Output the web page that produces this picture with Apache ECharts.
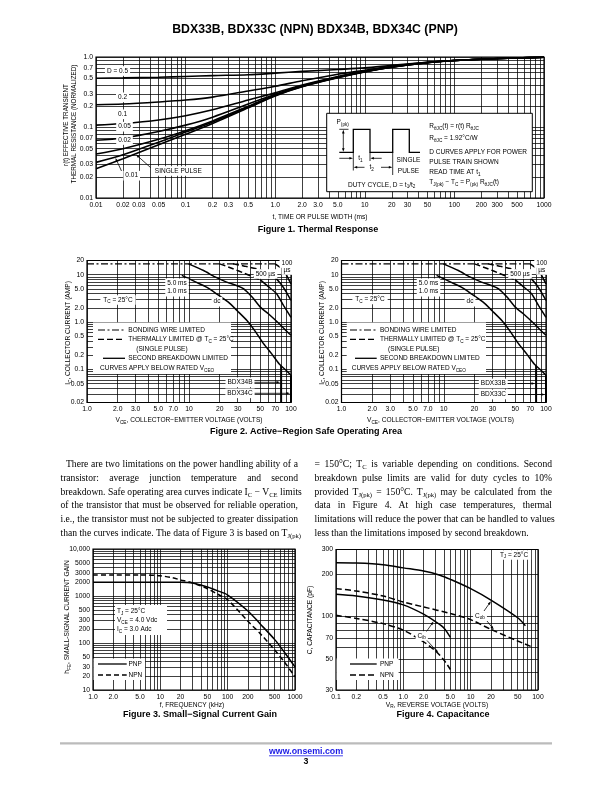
<!DOCTYPE html>
<html><head><meta charset="utf-8"><title>BDX33B, BDX33C (NPN) BDX34B, BDX34C (PNP)</title>
<script src="https://cdn.jsdelivr.net/npm/echarts@6.0.0/dist/echarts.min.js"></script>
<style>
html,body{margin:0;padding:0;background:#fff;}
#chart{position:absolute;left:0;top:0;width:612px;height:792px;}
.col{position:absolute;font-family:"Liberation Serif","Times New Roman",serif;font-size:9.6px;color:#000;}
.col div{height:13.7px;line-height:13.7px;white-space:nowrap;text-align:justify;text-align-last:justify;}
.col div.last{text-align-last:left;}
.col sub{font-size:6.6px;vertical-align:-1.6px;line-height:0;}
</style></head>
<body>
<div id="chart"></div>
<div class="col" style="left:60.5px;top:457.3px;width:237.5px;">
<div style="text-indent:5.5px">There are two limitations on the power handling ability of a</div>
<div>transistor: average junction temperature and second</div>
<div>breakdown. Safe operating area curves indicate I<sub>C</sub> − V<sub>CE</sub> limits</div>
<div>of the transistor that must be observed for reliable operation,</div>
<div>i.e., the transistor must not be subjected to greater dissipation</div>
<div>than the curves indicate. The data of Figure 3 is based on T<sub>J(pk)</sub></div>
</div>
<div class="col" style="left:314.5px;top:457.3px;width:237.5px;">
<div>= 150°C; T<sub>C</sub> is variable depending on conditions. Second</div>
<div>breakdown pulse limits are valid for duty cycles to 10%</div>
<div>provided T<sub>J(pk)</sub> = 150°C. T<sub>J(pk)</sub> may be calculated from the</div>
<div>data in Figure 4. At high case temperatures, thermal</div>
<div>limitations will reduce the power that can be handled to values</div>
<div class="last">less than the limitations imposed by second breakdown.</div>
</div>
<script>
const L = Math.log10;
const FONT = '"Liberation Sans", Arial, Helvetica, sans-serif';

// ---------------- Figure 1: Thermal response ----------------
const f1Time   = [0.01,0.02,0.05,0.1,0.2,0.5,1,2,5,10,20,50,100,200,500,1000];
const f1D05    = [0.50,0.505,0.515,0.53,0.545,0.56,0.59,0.625,0.665,0.70,0.76,0.84,0.89,0.93,0.97,0.99];
const f1D02    = [0.21,0.215,0.23,0.245,0.27,0.33,0.385,0.46,0.57,0.65,0.74,0.84,0.89,0.93,0.97,0.99];
const f1D01    = [0.108,0.114,0.128,0.147,0.178,0.245,0.31,0.40,0.53,0.63,0.73,0.835,0.89,0.93,0.97,0.99];
const f1D005   = [0.066,0.071,0.088,0.108,0.14,0.215,0.297,0.39,0.52,0.625,0.725,0.835,0.89,0.93,0.97,0.99];
const f1D002   = [0.042,0.05,0.068,0.09,0.124,0.2,0.29,0.385,0.515,0.62,0.72,0.83,0.89,0.93,0.97,0.99];
const f1D001   = [0.032,0.041,0.062,0.086,0.12,0.195,0.285,0.382,0.512,0.618,0.718,0.83,0.89,0.93,0.97,0.99];
const f1Single = [0.026,0.036,0.057,0.080,0.114,0.19,0.28,0.378,0.508,0.615,0.715,0.83,0.89,0.93,0.97,0.99];
const f1XTicks = [0.01,0.02,0.03,0.05,0.1,0.2,0.3,0.5,1,2,3,5,10,20,30,50,100,200,300,500,1000];
const f1XText  = ['0.01','0.02','0.03','0.05','0.1','0.2','0.3','0.5','1.0','2.0','3.0','5.0','10','20','30','50','100','200','300','500','1000'];
const f1YTicks = [0.01,0.02,0.03,0.05,0.07,0.1,0.2,0.3,0.5,0.7,1];
const f1YText  = ['0.01','0.02','0.03','0.05','0.07','0.1','0.2','0.3','0.5','0.7','1.0'];

// ---------------- Figure 2: Safe operating area ----------------
const f2BondV = [1, 70];            const f2BondI = [17, 17];
const f2DcV   = [8.5,12,15,18.6,24.3,30,37,45,53.8,65,76.7,90,100];
const f2DcI   = [9.7,6.8,5.4,3.96,2.63,1.7,1.08,0.62,0.35,0.21,0.13,0.095,0.075];
const f2Ms5V  = [9.9,13.9,18,23.4,30,34.4,42,50,60,76.7,90,100];
const f2Ms5I  = [17,12.3,9,7,5.8,5.05,3.3,2.07,1.5,0.92,0.65,0.53];
const f2Ms1ThV = [20,27,35,50];     const f2Ms1ThI = [17,13.4,10.7,7.8];
const f2Ms1SbV = [50,60,72,85,100]; const f2Ms1SbI = [7.8,5.6,4.0,2.2,1.26];
const f2Us500ThV = [27,35,50,67];   const f2Us500ThI = [17,15.2,12.7,9.7];
const f2Us500SbV = [67,80,90,100];  const f2Us500SbI = [9.7,6.3,4.3,2.86];
const f2Us100ThV = [70,85];         const f2Us100ThI = [17,12.7];
const f2Us100SbV = [85,100];        const f2Us100SbI = [12.7,6.4];
const f2RatedV = [80, 100];
const f2XTicks = [1,2,3,5,7,10,20,30,50,70,100];
const f2XText  = ['1.0','2.0','3.0','5.0','7.0','10','20','30','50','70','100'];
const f2YTicks = [0.02,0.05,0.1,0.2,0.5,1,2,5,10,20];
const f2YText  = ['0.02','0.05','0.1','0.2','0.5','1.0','2.0','5.0','10','20'];

// ---------------- Figure 3: Small-signal current gain ----------------
const f3PnpF = [1,2,5,10,20,30,50,70,100,200,300,500,700,1000];
const f3Pnp  = [1950,1950,1950,1950,1950,1900,1550,1300,1050,480,260,118,63,31];
const f3NpnF = [1,2,5,7,10,15,20,30,50,70,100,200,300,500,700,1000];
const f3Npn  = [2800,2800,2800,2780,2700,2450,2200,1900,1430,1100,830,290,162,71,39,19];
const f3XTicks = [1,2,5,10,20,50,100,200,500,1000];
const f3XText  = ['1.0','2.0','5.0','10','20','50','100','200','500','1000'];
const f3YTicks = [10,20,30,50,100,200,300,500,1000,2000,3000,5000,10000];
const f3YText  = ['10','20','30','50','100','200','300','500','1000','2000','3000','5000','10,000'];

// ---------------- Figure 4: Capacitance ----------------
const f4CobPnpV = [0.1,0.2,0.5,1,2,3.5,5,10,20,50,65];
const f4CobPnp  = [241,240,234,222,211,197,184,158,131,98,86];
const f4CobNpnV = [0.1,0.2,0.5,1,2,5,10,20,50,80];
const f4CobNpn  = [158,152,140,127,117,105,95,81,67,61];
const f4CibPnpV = [0.1,0.2,0.5,1,2,3,4,5];
const f4CibPnp  = [144,140,131,121,104,92,83,71];
const f4CibNpnV = [0.1,0.2,0.5,1,2,3,4,5];
const f4CibNpn  = [102,97,89,80,66,57,49,42];
const f4XTicks = [0.1,0.2,0.5,1,2,5,10,20,50,100];
const f4XText  = ['0.1','0.2','0.5','1.0','2.0','5.0','10','20','50','100'];
const f4YTicks = [30,50,70,100,200,300];
const f4YText  = ['30','50','70','100','200','300'];

// ---------------- helpers ----------------
function gridVals(lo, hi) {
  const out = [];
  for (let e = Math.floor(L(lo)) - 1; e <= Math.ceil(L(hi)); e++)
    for (let m = 1; m <= 9; m++) {
      const v = m * Math.pow(10, e);
      if (v >= lo * 0.9999 && v <= hi * 1.0001) out.push(L(v));
    }
  return out;
}
function mkAxis(dim, g, lo, hi, ticks, texts) {
  const lut = {};
  ticks.forEach((v, i) => { lut[L(v).toFixed(5)] = texts[i]; });
  return {
    type: 'value', gridIndex: g, min: L(lo), max: L(hi),
    position: dim === 'x' ? 'bottom' : 'left',
    axisLine: { show: false },
    axisTick: { show: false, customValues: gridVals(lo, hi) },
    splitLine: { show: true, lineStyle: { color: '#000', width: 0.75 } },
    axisLabel: {
      show: true, customValues: ticks.map(L),
      formatter: v => lut[Number(v).toFixed(5)] || '',
      color: '#000', fontSize: 6.8, fontFamily: FONT, margin: dim === 'x' ? 3.5 : 3
    },
    silent: true
  };
}
function interp(xs, ys, x) {
  for (let i = 0; i < xs.length - 1; i++) {
    if (x >= xs[i] && x <= xs[i + 1]) {
      const t = (L(x) - L(xs[i])) / (L(xs[i + 1]) - L(xs[i]));
      return Math.pow(10, L(ys[i]) + t * (L(ys[i + 1]) - L(ys[i])));
    }
  }
  return ys[ys.length - 1];
}
const S = [];
function line(g, xs, ys, o = {}) {
  S.push({
    type: 'line', xAxisIndex: g, yAxisIndex: g,
    data: xs.map((x, i) => [L(x), L(ys[i])]),
    symbol: 'none', showSymbol: false,
    smooth: o.smooth === undefined ? 0.3 : o.smooth,
    lineStyle: { color: '#000', width: o.w || 1.5, type: o.dash || 'solid' },
    silent: true, z: 5, clip: true, animation: false
  });
}

// Figure 1 curves
[f1D05, f1D02, f1D01, f1D005, f1D002, f1D001, f1Single].forEach(a => line(0, f1Time, a, { w: 1.6 }));
// Figure 2 curves (both charts)
[1, 2].forEach(g => {
  line(g, f2BondV, f2BondI, { dash: [7, 2.5, 2, 2.5], w: 1.1, smooth: false });
  line(g, f2DcV, f2DcI, { w: 1.5, smooth: 0.2 });
  line(g, f2Ms5V, f2Ms5I, { w: 1.5, smooth: 0.2 });
  line(g, f2Ms1ThV, f2Ms1ThI, { w: 1.5, dash: [6, 3], smooth: 0.2 });
  line(g, f2Ms1SbV, f2Ms1SbI, { w: 1.5, smooth: 0.2 });
  line(g, f2Us500ThV, f2Us500ThI, { w: 1.5, dash: [6, 3], smooth: 0.2 });
  line(g, f2Us500SbV, f2Us500SbI, { w: 1.5, smooth: 0.2 });
  line(g, f2Us100ThV, f2Us100ThI, { w: 1.5, dash: [6, 3], smooth: false });
  line(g, f2Us100SbV, f2Us100SbI, { w: 1.5, smooth: false });
  f2RatedV.forEach(v => line(g, [v, v], [interp(f2DcV, f2DcI, v), 0.02], { w: 2, smooth: false }));
});
// Figure 3
line(3, f3PnpF, f3Pnp, { w: 1.5 });
line(3, f3NpnF, f3Npn, { w: 1.5, dash: [5, 3] });
// Figure 4
line(4, f4CobPnpV, f4CobPnp, { w: 1.5 });
line(4, f4CobNpnV, f4CobNpn, { w: 1.5, dash: [6, 3] });
line(4, f4CibPnpV, f4CibPnp, { w: 1.5 });
line(4, f4CibNpnV, f4CibNpn, { w: 1.5, dash: [6, 3] });

const grids = [
  { left: 96, top: 57, width: 448, height: 141 },
  { left: 87, top: 260.5, width: 204, height: 142 },
  { left: 341.5, top: 260.5, width: 204.5, height: 142 },
  { left: 93, top: 549, width: 202, height: 141 },
  { left: 336, top: 549.5, width: 202, height: 140.5 }
].map(g => Object.assign({ show: true, borderColor: '#000', borderWidth: 1.2, backgroundColor: 'transparent', containLabel: false, outerBoundsMode: 'none' }, g));

const chart = echarts.init(document.getElementById('chart'), null, { renderer: 'canvas', width: 612, height: 792 });
chart.setOption({
  animation: false,
  textStyle: { fontFamily: FONT },
  grid: grids,
  xAxis: [
    mkAxis('x', 0, 0.01, 1000, f1XTicks, f1XText),
    mkAxis('x', 1, 1, 100, f2XTicks, f2XText),
    mkAxis('x', 2, 1, 100, f2XTicks, f2XText),
    mkAxis('x', 3, 1, 1000, f3XTicks, f3XText),
    mkAxis('x', 4, 0.1, 100, f4XTicks, f4XText)
  ],
  yAxis: [
    mkAxis('y', 0, 0.01, 1, f1YTicks, f1YText),
    mkAxis('y', 1, 0.02, 20, f2YTicks, f2YText),
    mkAxis('y', 2, 0.02, 20, f2YTicks, f2YText),
    mkAxis('y', 3, 10, 10000, f3YTicks, f3YText),
    mkAxis('y', 4, 30, 300, f4YTicks, f4YText)
  ],
  series: S
});

// ---------------- annotation graphics ----------------
const mctx = document.createElement('canvas').getContext('2d');
function tw(s, fs, bold) { mctx.font = (bold ? 'bold ' : '') + fs + 'px ' + FONT; return mctx.measureText(s).width; }
function rt(x, y, str, o = {}) {
  const fs = o.fs || 6.5, sfs = fs * 0.72;
  const parts = []; const re = /_\{([^}]*)\}/g; let last = 0, m;
  while ((m = re.exec(str))) {
    if (m.index > last) parts.push({ t: str.slice(last, m.index), sub: false });
    parts.push({ t: m[1], sub: true }); last = re.lastIndex;
  }
  if (last < str.length) parts.push({ t: str.slice(last), sub: false });
  let w = 0;
  parts.forEach(p => { p.w = tw(p.t, p.sub ? sfs : fs, o.bold); p.x = w; w += p.w; });
  const align = o.align || 'center';
  const x0 = align === 'center' ? -w / 2 : align === 'right' ? -w : 0;
  const ch = [];
  if (o.bg) {
    const px = o.padX === undefined ? 2 : o.padX, py = o.padY === undefined ? 0.8 : o.padY;
    ch.push({ type: 'rect', z: 100, shape: { x: x0 - px, y: -fs * 0.62 - py, width: w + 2 * px, height: fs * 1.24 + 2 * py }, style: { fill: o.bg } });
  }
  parts.forEach(p => ch.push({
    type: 'text', z: 101, x: x0 + p.x, y: p.sub ? fs * 0.3 : 0,
    style: { text: p.t, fontSize: p.sub ? sfs : fs, fontFamily: FONT, fontWeight: o.bold ? 'bold' : 'normal',
      fill: o.color || '#000', align: 'left', textAlign: 'left', verticalAlign: 'middle', textVerticalAlign: 'middle' }
  }));
  return { type: 'group', x, y, rotation: o.rot || 0, z: 100, children: ch, _w: w };
}
function seg(x1, y1, x2, y2, o = {}) {
  return { type: 'line', z: 101, shape: { x1, y1, x2, y2 }, style: { stroke: o.color || '#000', lineWidth: o.lw || 0.8, lineDash: o.dash || null } };
}
function arrow(x1, y1, x2, y2, o = {}) {
  const a = Math.atan2(y2 - y1, x2 - x1), s = o.size || 3.6, w = o.wid || 1.3;
  const ca = Math.cos(a), sa = Math.sin(a);
  return [
    seg(x1, y1, x2 - ca * s * 0.7, y2 - sa * s * 0.7, { lw: o.lw || 0.8 }),
    { type: 'polygon', z: 101, shape: { points: [[x2, y2], [x2 - ca * s - sa * w, y2 - sa * s + ca * w], [x2 - ca * s + sa * w, y2 - sa * s - ca * w]] }, style: { fill: '#000' } }
  ];
}
function box(x, y, w, h, o = {}) {
  return { type: 'rect', z: 99, shape: { x, y, width: w, height: h }, style: { fill: '#fff', stroke: o.stroke || null, lineWidth: o.lw || 1 } };
}
const G = [];
const BG = { bg: '#fff' };

// Title
G.push(rt(315, 29.5, 'BDX33B, BDX33C (NPN) BDX34B, BDX34C (PNP)', { fs: 12.3, bold: true }));

// Figure 1 texts
G.push(rt(66.5, 125, 'r(t) EFFECTIVE TRANSIENT', { fs: 6.3, rot: Math.PI / 2 }));
G.push(rt(74.5, 124, 'THERMAL RESISTANCE (NORMALIZED)', { fs: 6.3, rot: Math.PI / 2 }));
G.push(rt(320, 217.5, 't, TIME OR PULSE WIDTH (ms)', { fs: 6.6 }));
G.push(rt(318, 229.5, 'Figure 1. Thermal Response', { fs: 9, bold: true }));
G.push(rt(117.5, 71, 'D = 0.5', BG));
G.push(rt(122.5, 97.3, '0.2', BG));
G.push(rt(122.5, 114.3, '0.1', BG));
G.push(rt(124.5, 126.7, '0.05', BG));
G.push(rt(124.5, 140, '0.02', BG));
G.push(rt(131.7, 175.7, '0.01', BG));
G.push(rt(178.3, 171, 'SINGLE PULSE', BG));
{
  const P0 = (x, y) => chart.convertToPixel({ gridIndex: 0 }, [L(x), L(y)]);
  const a = P0(0.0165, interp(f1Time, f1D001, 0.0165));
  G.push(...arrow(121.5, 171, a[0], a[1] + 1));
  const b = P0(0.028, interp(f1Time, f1Single, 0.028));
  G.push(...arrow(150.5, 167.5, b[0], b[1] + 1));
}
// Figure 1 inset
G.push(box(326.7, 113.3, 205.6, 78.4, { stroke: '#000', lw: 1 }));
G.push(rt(336.5, 122.3, 'P_{(pk)}', { align: 'left' }));
G.push({ type: 'polyline', z: 101, shape: { points: [[339.3,152.3],[353.3,152.3],[353.3,129.3],[370,129.3],[370,152.3],[392.7,152.3],[392.7,129.3],[409.3,129.3],[409.3,152.3],[420,152.3]] }, style: { stroke: '#000', lineWidth: 1.3, fill: null } });
G.push(seg(339.3, 129.3, 348.5, 129.3));
G.push(...arrow(343.3, 141, 343.3, 129.8));
G.push(...arrow(343.3, 141, 343.3, 151.8));
G.push(...arrow(339.3, 158.3, 353, 158.3));
G.push(rt(360.5, 158.3, 't_{1}'));
G.push(...arrow(381.7, 158.3, 370.3, 158.3));
G.push(...arrow(364.5, 167.3, 353.6, 167.3));
G.push(rt(371.7, 167.3, 't_{2}'));
G.push(...arrow(381, 167.3, 392.4, 167.3));
G.push(seg(353.3, 152.3, 353.3, 170.5));
G.push(seg(370, 152.3, 370, 161));
G.push(seg(392.7, 152.3, 392.7, 175));
G.push(rt(408.5, 160, 'SINGLE'));
G.push(rt(408.5, 171, 'PULSE'));
G.push(rt(381.7, 185, 'DUTY CYCLE, D = t_{1}/t_{2}'));
G.push(rt(429.3, 126.7, 'R_{θJC}(t) = r(t) R_{θJC}', { align: 'left' }));
G.push(rt(429.3, 138.3, 'R_{θJC} = 1.92°C/W', { align: 'left' }));
G.push(rt(429.3, 152.3, 'D CURVES APPLY FOR POWER', { align: 'left' }));
G.push(rt(429.3, 162.3, 'PULSE TRAIN SHOWN', { align: 'left' }));
G.push(rt(429.3, 172.3, 'READ TIME AT t_{1}', { align: 'left' }));
G.push(rt(429.3, 182.3, 'T_{J(pk)} − T_{C} = P_{(pk)} R_{θJC}(t)', { align: 'left' }));

// Figure 2 annotations
function fig2Notes(g, o) {
  const P = (x, y) => chart.convertToPixel({ gridIndex: g }, [L(x), L(y)]);
  G.push(rt(o.yt, 333, 'I_{C}, COLLECTOR CURRENT (AMP)', { fs: 6.6, rot: Math.PI / 2 }));
  G.push(rt(o.xt, 420.5, 'V_{CE}, COLLECTOR−EMITTER VOLTAGE (VOLTS)', { fs: 6.6 }));
  G.push(rt(o.tc[0], o.tc[1], 'T_{C} = 25°C', { bg: '#fff', padX: 3 }));
  G.push(rt(o.ms[0], o.ms[1], '5.0 ms', BG));
  G.push(rt(o.ms[0], o.ms[1] + 8.4, '1.0 ms', BG));
  G.push(rt(o.dc[0], o.dc[1], 'dc', BG));
  G.push(rt(o.u5[0], o.u5[1], '500 µs', BG));
  G.push(rt(o.u1[0], o.u1[1], '100', BG));
  G.push(rt(o.u1[0], o.u1[1] + 7, 'µs', BG));
  const b = o.box;
  G.push(box(b[0], b[1], b[2], b[3]));
  G.push(seg(o.lx[0], 330, o.lx[1], 330, { dash: [7, 2.5, 2, 2.5], lw: 1.1 }));
  G.push(rt(o.tx, 330, 'BONDING WIRE LIMITED', { align: 'left' }));
  G.push(seg(o.lx[0], 339.3, o.lx[1], 339.3, { dash: [6, 3], lw: 1.3 }));
  G.push(rt(o.tx, 339.3, 'THERMALLY LIMITED @ T_{C} = 25°C', { align: 'left' }));
  G.push(rt(o.tx + 8, 349, '(SINGLE PULSE)', { align: 'left' }));
  G.push(seg(o.lx[0] + 5, 358.3, o.lx[1], 358.3, { lw: 1.3 }));
  G.push(rt(o.tx, 358.3, 'SECOND BREAKDOWN LIMITED', { align: 'left' }));
  G.push(rt(o.cx, 368.3, 'CURVES APPLY BELOW RATED V_{CEO}', { align: 'left' }));
  const pB = P(f2RatedV[0], 0.05), pC = P(f2RatedV[1], 0.03);
  const lb = rt(o.lab[0], o.lab[1], o.names[0], BG); G.push(lb);
  G.push(...arrow(o.lab[0] + lb._w / 2 + 2, o.lab[1], pB[0] - 1, o.lab[1]));
  const lc = rt(o.lab[0], o.lab[1] + 11, o.names[1], BG); G.push(lc);
  G.push(...arrow(o.lab[0] + lc._w / 2 + 2, o.lab[1] + 11, pC[0] - 1, o.lab[1] + 11));
}
fig2Notes(1, { yt: 68.3, xt: 189, tc: [118, 300], ms: [177, 283.3], dc: [217, 301.7], u5: [265.5, 274], u1: [287, 263],
  box: [93, 322.5, 138, 51.5], lx: [98, 125], tx: 128.3, cx: 100, lab: [240, 382.3], names: ['BDX34B', 'BDX34C'] });
fig2Notes(2, { yt: 321.7, xt: 440.5, tc: [370, 299.3], ms: [428.5, 283.3], dc: [470, 301.7], u5: [520, 274], u1: [541.7, 263],
  box: [346.7, 322.5, 139.3, 51.5], lx: [350, 376.7], tx: 380, cx: 351.7, lab: [493.3, 383.5], names: ['BDX33B', 'BDX33C'] });
G.push(rt(306, 432, 'Figure 2. Active−Region Safe Operating Area', { fs: 9, bold: true }));

// Figure 3 annotations
G.push(rt(67.3, 617, 'h_{FE}, SMALL-SIGNAL CURRENT GAIN', { fs: 6.6, rot: Math.PI / 2 }));
G.push(rt(192, 705, 'f, FREQUENCY (kHz)', { fs: 6.6 }));
G.push(rt(200, 714.5, 'Figure 3. Small−Signal Current Gain', { fs: 9, bold: true }));
G.push(box(115, 605, 52, 30));
G.push(rt(117, 611.7, 'T_{J} = 25°C', { align: 'left' }));
G.push(rt(117, 620.7, 'V_{CE} = 4.0 Vdc', { align: 'left' }));
G.push(rt(117, 629.3, 'I_{C} = 3.0 Adc', { align: 'left' }));
G.push(box(93.6, 658.5, 51.5, 21.5));
G.push(seg(98, 664, 126.7, 664, { lw: 1.3 }));
G.push(rt(128.5, 664, 'PNP', { align: 'left' }));
G.push(seg(98, 675, 126.7, 675, { lw: 1.3, dash: [5, 3] }));
G.push(rt(128.5, 675, 'NPN', { align: 'left' }));

// Figure 4 annotations
G.push(rt(310, 620, 'C, CAPACITANCE (pF)', { fs: 6.6, rot: Math.PI / 2 }));
G.push(rt(437, 705, 'V_{R}, REVERSE VOLTAGE (VOLTS)', { fs: 6.6 }));
G.push(rt(443, 714.5, 'Figure 4. Capacitance', { fs: 9, bold: true }));
G.push(rt(514, 555, 'T_{J} = 25°C', { bg: '#fff', padX: 3 }));
G.push(box(336.6, 658.5, 62, 21.5));
G.push(seg(350, 664, 376.7, 664, { lw: 1.3 }));
G.push(rt(380, 664, 'PNP', { align: 'left' }));
G.push(seg(350, 675, 376.7, 675, { lw: 1.3, dash: [6, 3] }));
G.push(rt(380, 675, 'NPN', { align: 'left' }));
{
  const P4 = (x, y) => chart.convertToPixel({ gridIndex: 4 }, [L(x), L(y)]);
  G.push(rt(480, 616, 'C_{ob}', BG));
  const a = P4(20, interp(f4CobPnpV, f4CobPnp, 20));
  G.push(...arrow(484, 611, a[0], a[1] + 1.2));
  const b = P4(22, interp(f4CobNpnV, f4CobNpn, 22));
  G.push(...arrow(487, 621, b[0], b[1] - 1.2));
  G.push(rt(421.7, 636, 'C_{ib}', BG));
  const c = P4(2.8, interp(f4CibPnpV, f4CibPnp, 2.8));
  G.push(...arrow(426.5, 631.5, c[0], c[1] + 1.2));
  const d = P4(3.3, interp(f4CibNpnV, f4CibNpn, 3.3));
  G.push(...arrow(427, 640.5, d[0], d[1] - 1.2));
}

// Footer
G.push({ type: 'rect', z: 100, shape: { x: 60, y: 742.3, width: 492, height: 2.2 }, style: { fill: '#bbbbbb' } });
const link = rt(306, 751.5, 'www.onsemi.com', { fs: 8.8, bold: true, color: '#1a1ae6' });
G.push(link);
G.push(seg(306 - link._w / 2, 755.8, 306 + link._w / 2, 755.8, { color: '#1a1ae6', lw: 0.8 }));
G.push(rt(306, 761.5, '3', { fs: 8.8, bold: true }));

chart.setOption({ graphic: { elements: G } });
</script>
</body></html>
